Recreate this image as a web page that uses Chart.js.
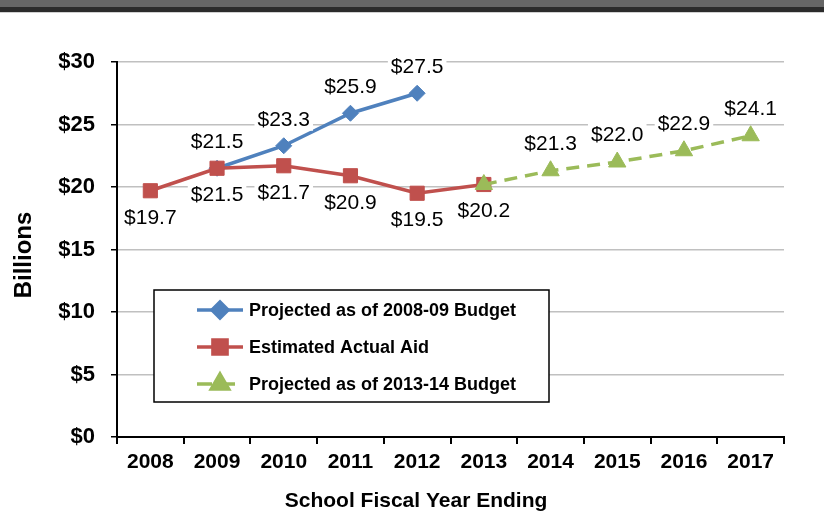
<!DOCTYPE html>
<html>
<head>
<meta charset="utf-8">
<script src="https://cdn.jsdelivr.net/npm/chart.js@4"></script>
<style>
    html, body { margin:0; padding:0; background:#fff; }
    .wrap { position:relative; width:824px; height:512px; overflow:hidden; }
    .topbar { position:absolute; left:0; top:0; width:824px; height:7px; background:#666; }
    .topbar2 { position:absolute; left:0; top:7px; width:824px; height:5px; background:#2b2b2b; border-bottom:1px solid #d0d0d0; }
    canvas { position:absolute; left:0; top:0; }
</style>
</head>
<body>
<div class="wrap">
    <canvas id="aidChart" width="824" height="512"></canvas>
    <div class="topbar"></div>
    <div class="topbar2"></div>
</div>
<script>
// Data
const years = ['2008','2009','2010','2011','2012','2013','2014','2015','2016','2017'];
const projected0809 = [null, 21.5, 23.3, 25.9, 27.5, null, null, null, null, null];
const actualAid     = [19.7, 21.5, 21.7, 20.9, 19.5, 20.2, null, null, null, null];
const projected1314 = [null, null, null, null, null, 20.2, 21.3, 22.0, 22.9, 24.1];
const yTicks = [0, 5, 10, 15, 20, 25, 30];

const BLUE = '#4f81bd', RED = '#c0504d', GREEN = '#9bbb59';
const ARIAL = "'Liberation Sans', Arial, sans-serif";

// value labels, white box behind like the original
const valueLabels = {
    id: 'valueLabels',
    afterDatasetsDraw(chart) {
        const ctx = chart.ctx;
        ctx.save();
        ctx.font = '21px ' + ARIAL;
        ctx.textAlign = 'center';
        ctx.textBaseline = 'middle';
        chart.data.datasets.forEach((ds, i) => {
            chart.getDatasetMeta(i).data.forEach((pt, j) => {
                const v = ds.data[j];
                if (v == null || (ds.skipLabels || []).includes(j)) return;
                const txt = '$' + v.toFixed(1);
                const x = pt.x, y = pt.y + ds.labelDy;
                const w = ctx.measureText(txt).width + 6;
                ctx.fillStyle = '#fff';
                ctx.fillRect(x - w/2, y - 11, w, 22);
                ctx.fillStyle = '#000';
                ctx.fillText(txt, x, y);
            });
        });
        ctx.restore();
    }
};

// boxed legend inside the plot + the two axis titles (placed like the original, not centred on the plot)
const boxLegend = {
    id: 'boxLegend',
    afterDraw(chart) {
        const ctx = chart.ctx, a = chart.chartArea;
        const bx = a.left + 37, by = a.top + 228, bw = 395, bh = 112;
        ctx.save();
        ctx.fillStyle = '#fff';
        ctx.fillRect(bx, by, bw, bh);
        ctx.strokeStyle = '#000';
        ctx.lineWidth = 1.5;
        ctx.strokeRect(bx, by, bw, bh);
        ctx.font = 'bold 18px ' + ARIAL;
        ctx.textBaseline = 'middle';
        chart.data.datasets.forEach((ds, i) => {
            const y = by + 20 + i * 37;
            const x0 = bx + 43, x1 = bx + 89, cx = (x0 + x1) / 2;
            ctx.strokeStyle = ds.borderColor;
            ctx.lineWidth = 3.5;
            ctx.setLineDash(ds.borderDash ? [15, 8] : []);
            ctx.beginPath(); ctx.moveTo(x0, y); ctx.lineTo(x1, y); ctx.stroke();
            ctx.setLineDash([]);
            Chart.helpers.drawPoint(ctx, {pointStyle: ds.pointStyle, radius: ds.pointRadius, borderWidth: 1}, cx, y);
            ctx.fillStyle = ds.borderColor; ctx.fill();
            ctx.fillStyle = '#000';
            ctx.fillText(ds.label, bx + 95, y + 1);
        });

        // axis titles
        ctx.fillStyle = '#000';
        ctx.textAlign = 'center';
        ctx.font = 'bold 21px ' + ARIAL;
        ctx.fillText('School Fiscal Year Ending', 416, 501);
        ctx.translate(24, 255);
        ctx.rotate(-Math.PI / 2);
        ctx.font = 'bold 24px ' + ARIAL;
        ctx.fillText('Billions', 0, 0);
        ctx.restore();
    }
};

new Chart(document.getElementById('aidChart'), {
    type: 'line',
    data: {
        labels: years,
        datasets: [
            { label:'Projected as of 2008-09 Budget', data:projected0809, borderColor:BLUE, backgroundColor:BLUE,
              borderWidth:3.5, pointStyle:'rectRot', pointRadius:8, pointBorderWidth:1, order:2, labelDy:-26 },
            { label:'Estimated Actual Aid', data:actualAid, borderColor:RED, backgroundColor:RED,
              borderWidth:3.5, pointStyle:'rect', pointRadius:10, pointBorderWidth:1, order:1, labelDy:27 },
            { label:'Projected as of 2013-14 Budget', data:projected1314, borderColor:GREEN, backgroundColor:GREEN,
              borderWidth:3.5, borderDash:[13,8], pointStyle:'triangle', pointRadius:10, pointBorderWidth:1, order:0,
              labelDy:-27, skipLabels:[5] }
        ]
    },
    options: {
        responsive:false, animation:false,
        layout:{ padding:{ top:62, right:40, left:0, bottom:0 } },
        plugins:{ legend:{display:false}, tooltip:{enabled:false} },
        scales:{
            x:{
                offset:true,
                grid:{ offset:true, drawOnChartArea:false, tickLength:7, color:'#000', lineWidth:2 },
                border:{ color:'#000', width:2 },
                ticks:{ font:{family:ARIAL, weight:'bold', size:21}, color:'#000', padding:6, maxRotation:0 },
                afterFit: s => { s.height = 75; }
            },
            y:{
                min:0, max:30,
                afterBuildTicks: s => { s.ticks = yTicks.map(v => ({value:v})); },
                grid:{ color:'#c0c0c0', lineWidth:1.5, tickColor:'#000', tickLength:6 },
                border:{ color:'#000', width:2 },
                ticks:{ callback: v => '$' + v, font:{family:ARIAL, weight:'bold', size:22}, color:'#000', padding:16 },
                afterFit: s => { s.width = 117; }
            }
        }
    },
    plugins:[valueLabels, boxLegend]
});
</script>
</body>
</html>
